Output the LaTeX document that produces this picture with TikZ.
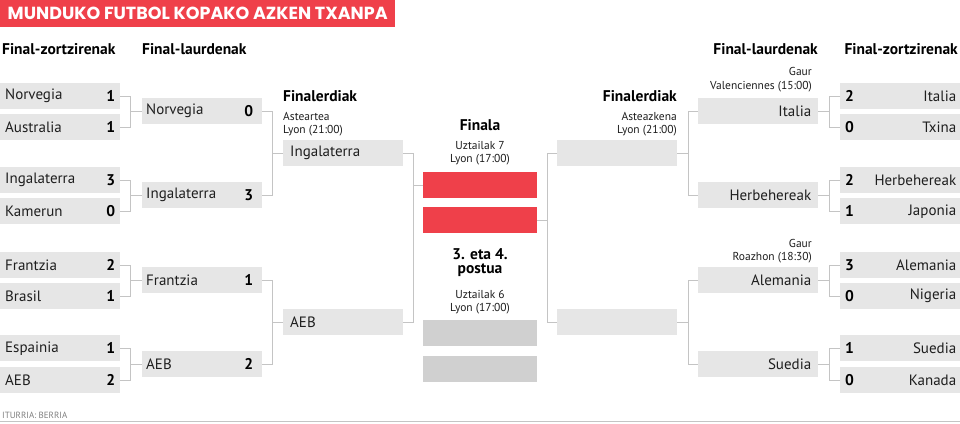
\documentclass[tikz,border=0pt]{standalone}
\usepackage{fontspec}
\setmainfont{PT Sans}
\newfontfamily\titlefont{Poppins}
\definecolor{boxgray}{RGB}{230,230,230}
\definecolor{darkgray3}{RGB}{208,208,208}
\definecolor{linegray}{RGB}{196,196,196}
\definecolor{bannerred}{RGB}{239,64,74}
\definecolor{txt}{RGB}{30,30,30}
\tikzset{
  teambox/.style={fill=boxgray, draw=none, minimum width=120pt, minimum height=26pt, inner sep=0pt, anchor=north west},
  redbox/.style={teambox, fill=bannerred, minimum width=114pt},
  thirdbox/.style={teambox, fill=darkgray3, minimum width=114pt},
  conn/.style={draw=linegray, line width=1pt},
  tname/.style={font=\fontsize{15}{16}\selectfont, text=txt, inner sep=0pt},
  tscore/.style={font=\fontsize{15.5}{16}\selectfont\bfseries, text=black, inner sep=0pt},
  hdr/.style={font=\fontsize{15.5}{17}\selectfont\bfseries, text=black, inner sep=0pt},
  small/.style={font=\fontsize{11.5}{13}\selectfont, text=txt, inner sep=0pt, align=center},
}
\begin{document}
\begin{tikzpicture}[x=1pt, y=-1pt]
\fill[white] (0,0) rectangle (960,423);
\useasboundingbox (0,0) rectangle (960,423);
% banner
\node[fill=bannerred, minimum width=395pt, minimum height=27pt, inner sep=0pt, anchor=north west] (banner) at (0,0) {};
\node[font=\titlefont\fontsize{17.5}{18}\selectfont\bfseries, text=white, inner sep=0pt] (title) at (banner.center) {MUNDUKO FUTBOL KOPAKO AZKEN TXANPA};
% headers
\node[hdr, anchor=west] (h1) at (2,49) {Final-zortzirenak};
\node[hdr, anchor=west] (h2) at (142,49) {Final-laurdenak};
\node[hdr, anchor=east] (h3) at (818,49) {Final-laurdenak};
\node[hdr, anchor=east] (h4) at (958,49) {Final-zortzirenak};
% left round of 16
\node[teambox] (l1) at (0,83) {};
\node[teambox] (l2) at (0,114) {};
\node[teambox] (l3) at (0,167) {};
\node[teambox] (l4) at (0,198) {};
\node[teambox] (l5) at (0,252) {};
\node[teambox] (l6) at (0,283) {};
\node[teambox] (l7) at (0,335) {};
\node[teambox] (l8) at (0,367) {};
\foreach \n/\t/\s in {l1/Norvegia/1, l2/Australia/1, l3/Ingalaterra/3, l4/Kamerun/0, l5/Frantzia/2, l6/Brasil/1, l7/Espainia/1, l8/AEB/2}{
  \node[tname, anchor=west] (\n t) at ([xshift=5pt]\n.west) {\t};
  \node[tscore, anchor=east] (\n s) at ([xshift=-5pt]\n.east) {\s};
}
% left quarter finals
\node[teambox] (q1) at (142,98) {};
\node[teambox] (q2) at (142,182) {};
\node[teambox] (q3) at (142,267) {};
\node[teambox] (q4) at (142,351) {};
\foreach \n/\t/\s in {q1/Norvegia/0, q2/Ingalaterra/3, q3/Frantzia/1, q4/AEB/2}{
  \node[tname, anchor=west] (\n t) at ([xshift=4pt]\n.west) {\t};
  \node[tscore, anchor=east] (\n s) at ([xshift=-9pt]\n.east) {\s};
}
% left semi finals
\node[teambox] (s1) at (283,140) {};
\node[teambox] (s2) at (283,309) {};
\node[tname, anchor=west] (s1t) at ([xshift=7pt]s1.west) {Ingalaterra};
\node[tname, anchor=west] (s2t) at ([xshift=7pt]s2.west) {AEB};
\node[hdr, anchor=west] (sfl) at (283,96) {Finalerdiak};
\node[small, anchor=west] (sfl1) at (283,116) {Asteartea};
\node[small, anchor=west] (sfl2) at (283,131) {Lyon (21:00)};
% final
\node[redbox] (f1) at (423,172) {};
\node[redbox] (f2) at (423,207) {};
\node[hdr] (fin) at (480,125) {Finala};
\node[small] (fin1) at (480,145) {Uztailak 7};
\node[small] (fin2) at (480,160) {Lyon (17:00)};
% third place
\node[thirdbox] (t1) at (423,320) {};
\node[thirdbox] (t2) at (423,356) {};
\node[hdr, align=center, font=\fontsize{15.5}{14}\selectfont\bfseries] (thr) at (480,263) {3. eta 4.\\postua};
\node[small] (thr1) at (480,294) {Uztailak 6};
\node[small] (thr2) at (480,309) {Lyon (17:00)};
% right semi finals
\node[teambox] (rs1) at (557,140) {};
\node[teambox] (rs2) at (557,309) {};
\node[hdr, anchor=east] (sfr) at (677,96) {Finalerdiak};
\node[small, anchor=east] (sfr1) at (677,116) {Asteazkena};
\node[small, anchor=east] (sfr2) at (677,131) {Lyon (21:00)};
% right quarter finals
\node[teambox] (rq1) at (698,98) {};
\node[teambox] (rq2) at (698,182) {};
\node[teambox] (rq3) at (698,267) {};
\node[teambox] (rq4) at (698,351) {};
\foreach \n/\t in {rq1/Italia, rq2/Herbehereak, rq3/Alemania, rq4/Suedia}{
  \node[tname, anchor=east] (\n t) at ([xshift=-7pt]\n.east) {\t};
}
\node[small, anchor=east] (g1) at (812,71) {Gaur};
\node[small, anchor=east] (g2) at (812,87) {Valenciennes (15:00)};
\node[small, anchor=east] (g3) at (812,243) {Gaur};
\node[small, anchor=east] (g4) at (812,258) {Roazhon (18:30)};
% right round of 16
\node[teambox] (r1) at (840,83) {};
\node[teambox] (r2) at (840,114) {};
\node[teambox] (r3) at (840,167) {};
\node[teambox] (r4) at (840,198) {};
\node[teambox] (r5) at (840,252) {};
\node[teambox] (r6) at (840,283) {};
\node[teambox] (r7) at (840,335) {};
\node[teambox] (r8) at (840,367) {};
\foreach \n/\t/\s in {r1/Italia/2, r2/Txina/0, r3/Herbehereak/2, r4/Japonia/1, r5/Alemania/3, r6/Nigeria/0, r7/Suedia/1, r8/Kanada/0}{
  \node[tname, anchor=east] (\n t) at ([xshift=-4pt]\n.east) {\t};
  \node[tscore, anchor=west] (\n s) at ([xshift=5pt]\n.west) {\s};
}
% connectors left
\draw[conn] (l1.east) -- ++(10,0) |- (l2.east);
\draw[conn] (q1.west) -- ++(-12,0);
\draw[conn] (l3.east) -- ++(10,0) |- (l4.east);
\draw[conn] (q2.west) -- ++(-12,0);
\draw[conn] (l5.east) -- ++(10,0) |- (l6.east);
\draw[conn] (q3.west) -- ++(-12,0);
\draw[conn] (l7.east) -- ++(10,0) |- (l8.east);
\draw[conn] (q4.west) -- ++(-12,0);
\draw[conn] (q1.east) -- ++(10,0) |- (q2.east);
\draw[conn] (s1.west) -- ++(-11,0);
\draw[conn] (q3.east) -- ++(10,0) |- (q4.east);
\draw[conn] (s2.west) -- ++(-11,0);
\draw[conn] (s1.east) -- ++(10,0) |- (s2.east);
\draw[conn] (f1.west) -- ++(-10,0);
% connectors right
\draw[conn] (rs1.west) -- ++(-10,0) |- (rs2.west);
\draw[conn] (f2.east) -- ++(10,0);
\draw[conn] (rq1.west) -- ++(-10,0) |- (rq2.west);
\draw[conn] (rs1.east) -- ++(11,0);
\draw[conn] (rq3.west) -- ++(-10,0) |- (rq4.west);
\draw[conn] (rs2.east) -- ++(11,0);
\draw[conn] (r1.west) -- ++(-11,0) |- (r2.west);
\draw[conn] (rq1.east) -- ++(11,0);
\draw[conn] (r3.west) -- ++(-11,0) |- (r4.west);
\draw[conn] (rq2.east) -- ++(11,0);
\draw[conn] (r5.west) -- ++(-11,0) |- (r6.west);
\draw[conn] (rq3.east) -- ++(11,0);
\draw[conn] (r7.west) -- ++(-11,0) |- (r8.west);
\draw[conn] (rq4.east) -- ++(11,0);
% footer
\node[font=\fontsize{9}{10}\selectfont, text=gray, inner sep=0pt, anchor=west] (src) at (2,415) {ITURRIA: BERRIA};
\coordinate (fl) at (0,421.5);
\coordinate (fr) at (960,421.5);
\draw[draw=linegray, line width=1.5pt] (fl) -- (fr);
\end{tikzpicture}
\end{document}
